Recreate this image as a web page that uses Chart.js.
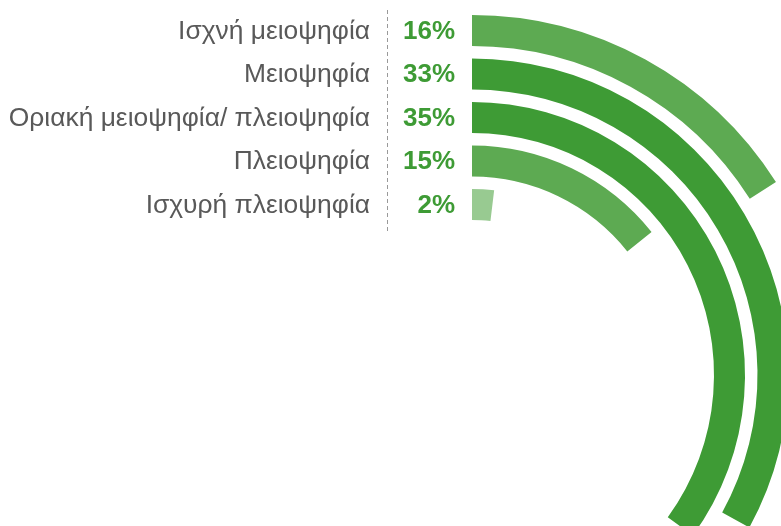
<!DOCTYPE html>
<html>
<head>
<meta charset="utf-8">
<script src="https://cdn.jsdelivr.net/npm/chart.js@4"></script>
<style>
  html, body { margin: 0; padding: 0; overflow: hidden; background: #fff; }
  #wrap { position: absolute; left: 0; top: 0; width: 944px; height: 750px; }
</style>
</head>
<body>
<div id="wrap"><canvas id="radial"></canvas></div>
<script>
const categories = [
  "Ισχνή μειοψηφία",
  "Μειοψηφία",
  "Οριακή μειοψηφία/ πλειοψηφία",
  "Πλειοψηφία",
  "Ισχυρή πλειοψηφία"
];
// printed percentages
const shareLabels = ["16%", "33%", "35%", "15%", "2%"];
// arc lengths as drawn (percent of a full turn)
const arcValues = [16, 33, 35, 14.3, 1.9];
const ringColors = ["#5daa52", "#3e9b35", "#3e9b35", "#5daa52", "#98ca91"];

// one dataset per ring, with a transparent spacer ring between them
const datasets = [];
arcValues.forEach((v, i) => {
  if (i > 0) {
    datasets.push({ data: [1], backgroundColor: ["rgba(0,0,0,0)"], weight: 12.5, spacer: true });
  }
  datasets.push({
    label: categories[i],
    data: [v, 100 - v],
    backgroundColor: [ringColors[i], "rgba(0,0,0,0)"],
    weight: 31
  });
});

const labelPlugin = {
  id: "rowLabels",
  afterDraw(chart) {
    const ctx = chart.ctx;
    const rings = [];
    chart.data.datasets.forEach((ds, i) => {
      if (!ds.spacer) rings.push(chart.getDatasetMeta(i).data[0]);
    });
    ctx.save();
    // dashed divider
    ctx.strokeStyle = "#999999";
    ctx.lineWidth = 1;
    ctx.setLineDash([4, 3]);
    ctx.beginPath();
    ctx.moveTo(387.5, 10);
    ctx.lineTo(387.5, 232);
    ctx.stroke();
    ctx.setLineDash([]);

    ctx.textAlign = "right";
    ctx.textBaseline = "middle";
    rings.forEach((arc, i) => {
      const y = arc.y - (arc.outerRadius + arc.innerRadius) / 2;
      ctx.font = "26.4px 'Liberation Sans', Arial, sans-serif";
      ctx.fillStyle = "#595959";
      ctx.fillText(categories[i], 370, y + 1);
      ctx.font = "bold 26px 'Liberation Sans', Arial, sans-serif";
      ctx.fillStyle = "#3e9b35";
      ctx.fillText(shareLabels[i], 455, y + 1);
    });
    ctx.restore();
  }
};

new Chart(document.getElementById("radial"), {
  type: "doughnut",
  data: { labels: ["value", "rest"], datasets },
  options: {
    responsive: true,
    maintainAspectRatio: false,
    animation: false,
    cutout: 155,
    rotation: 0,
    circumference: 360,
    layout: { padding: 15 },
    elements: { arc: { borderWidth: 0 } },
    plugins: {
      legend: { display: false },
      tooltip: { enabled: false }
    }
  },
  plugins: [labelPlugin]
});
</script>
</body>
</html>
